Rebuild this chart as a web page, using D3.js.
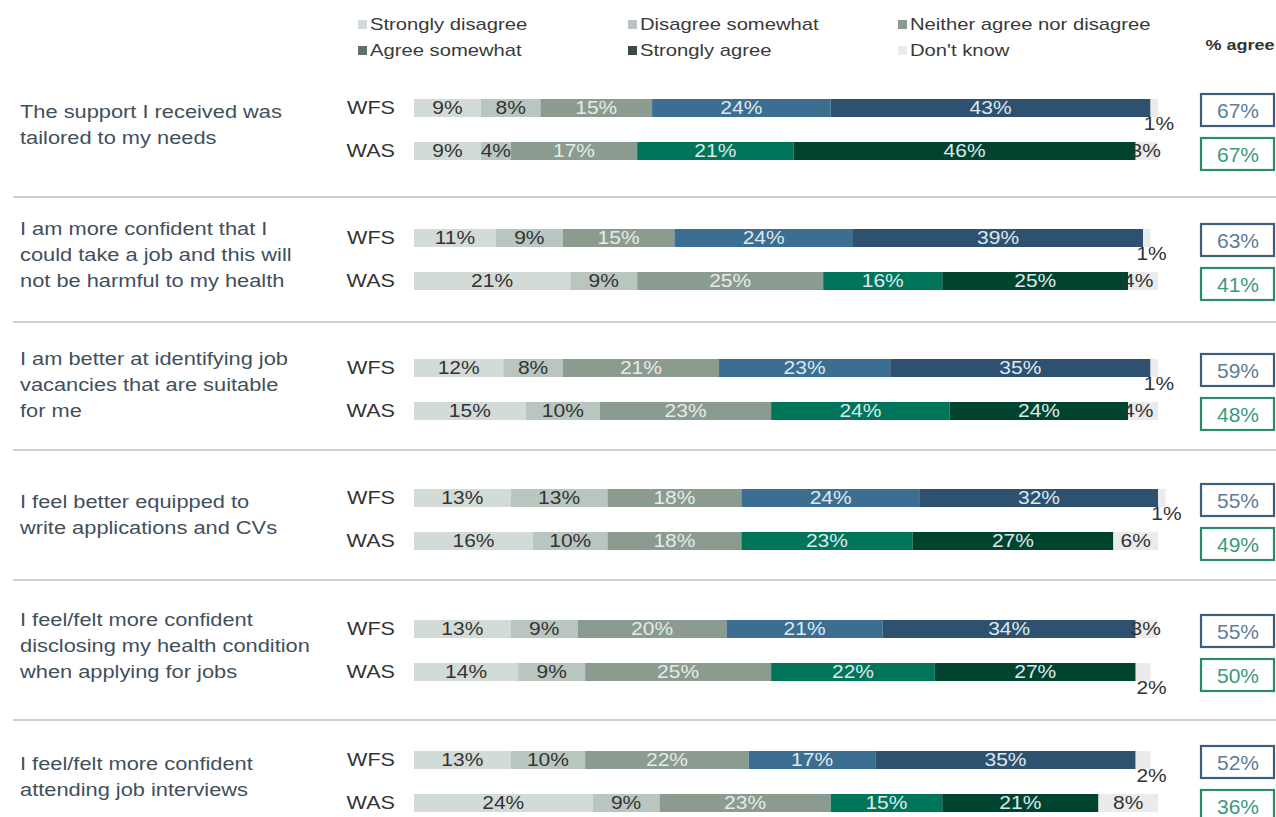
<!DOCTYPE html>
<html>
<head>
<meta charset="utf-8">
<script src="https://cdn.jsdelivr.net/npm/d3@7"></script>
<style>
  html, body { margin: 0; padding: 0; background: #ffffff; }
  svg { display: block; font-family: "Liberation Sans", Arial, sans-serif; }
</style>
</head>
<body>
<svg id="chart" width="1276" height="817"></svg>
<script>
// Response categories, in stacking order
const responses = ["Strongly disagree", "Disagree somewhat", "Neither agree nor disagree",
                   "Agree somewhat", "Strongly agree", "Don't know"];

// Statements (pre-wrapped lines)
const statements = [
  ["The support I received was", "tailored to my needs"],
  ["I am more confident that I", "could take a job and this will", "not be harmful to my health"],
  ["I am better at identifying job", "vacancies that are suitable", "for me"],
  ["I feel better equipped to", "write applications and CVs"],
  ["I feel/felt more confident", "disclosing my health condition", "when applying for jobs"],
  ["I feel/felt more confident", "attending job interviews"]
];

const programmes = ["WFS", "WAS"];

// Percentages per statement, in the order of `responses`
const wfsValues = [
  [9, 8, 15, 24, 43, 1],
  [11, 9, 15, 24, 39, 1],
  [12, 8, 21, 23, 35, 1],
  [13, 13, 18, 24, 32, 1],
  [13, 9, 20, 21, 34, 3],
  [13, 10, 22, 17, 35, 2]
];
const wasValues = [
  [9, 4, 17, 21, 46, 3],
  [21, 9, 25, 16, 25, 4],
  [15, 10, 23, 24, 24, 4],
  [16, 10, 18, 23, 27, 6],
  [14, 9, 25, 22, 27, 2],
  [24, 9, 23, 15, 21, 8]
];

// Share agreeing (agree somewhat + strongly agree)
const wfsAgree = [67, 63, 59, 55, 55, 52];
const wasAgree = [67, 41, 48, 49, 50, 36];

// ---- styling ----
const sharedColors = ["#d3dbd7", "#b9c6c0", "#8b9b90"];
const wfsColors = sharedColors.concat(["#3c6e92", "#2d516e", "#ebebeb"]);
const wasColors = sharedColors.concat(["#00755a", "#00442f", "#ebebeb"]);
const legendColors = ["#d3dbd7", "#b9c6c0", "#8b9b90", "#5f7268", "#3d4a44", "#ebebeb"];
const labelColors = ["#333333", "#333333", "#e6ebe8", "#dfe8ee", "#dfe8ee", "#333333"];

const svg = d3.select("#chart");

// Text is set slightly wide: each label sits in a group stretched horizontally
function wideText(parent, x, y, str, opts) {
  const g = parent.append("g")
    .attr("transform", `translate(${x},${y}) scale(${opts.sx || 1.2},1)`);
  return g.append("text")
    .attr("x", 0).attr("y", 0).attr("dy", "0.35em")
    .attr("text-anchor", opts.anchor || "start")
    .attr("font-size", opts.size)
    .attr("font-weight", opts.weight || "normal")
    .attr("fill", opts.fill)
    .text(str);
}

// Horizontal percentage scale shared by every bar
const x = d3.scaleLinear().domain([0, 100]).range([414, 1158]);

// Vertical positions of the WFS row of each statement
const wfsRowY = [108, 238, 368, 498, 629, 760];
const rowGap = 43;
const barH = 18;
const separatorY = [197, 322, 450, 580, 720];

// ---- legend ----
const legendCols = [358, 628, 898];
const legend = svg.append("g");
responses.forEach((r, i) => {
  const lx = legendCols[i % 3];
  const ly = 24 + Math.floor(i / 3) * 26;
  legend.append("rect")
    .attr("x", lx).attr("y", ly - 4).attr("width", 9).attr("height", 9)
    .attr("fill", legendColors[i]);
  wideText(legend, lx + 12, ly, r, { size: 17, sx: 1.19, fill: "#3a3a3a" });
});

wideText(svg, 1240, 45, "% agree", { size: 15, sx: 1.2, weight: "bold", anchor: "middle", fill: "#333" });

// ---- separators ----
svg.selectAll("line.sep").data(separatorY).join("line")
  .attr("class", "sep")
  .attr("x1", 13).attr("x2", 1276)
  .attr("y1", d => d).attr("y2", d => d)
  .attr("stroke", "#cfcfcf").attr("stroke-width", 2);

// ---- statement labels ----
statements.forEach((lines, gi) => {
  const mid = wfsRowY[gi] + rowGap / 2 - 5;
  const top = mid - (lines.length - 1) * 26 / 2;
  lines.forEach((ln, li) => {
    wideText(svg, 20, top + li * 26, ln, { size: 18.5, sx: 1.18, fill: "#3f505c" });
  });
});

// ---- bars ----
function drawRow(values, colors, y, prog) {
  const g = svg.append("g");
  let cum = 0;
  const segs = values.map((v, i) => {
    const s = { v, i, x0: cum, x1: cum + v };
    cum += v;
    return s;
  });
  g.selectAll("rect").data(segs).join("rect")
    .attr("x", d => x(d.x0))
    .attr("y", y - barH / 2)
    .attr("width", d => x(d.x1) - x(d.x0))
    .attr("height", barH)
    .attr("fill", d => colors[d.i]);

  segs.forEach(d => {
    let cx = (x(d.x0) + x(d.x1)) / 2;
    let cy = y;
    if (d.i === 5) {
      if (d.v <= 2) {          // tiny share: label drops below the bar end
        cx = x(d.x1) + 1;
        cy = y + 16;
      } else if (d.v <= 4) {   // small share: label sits just past the coloured bars
        cx = x(d.x0) + 10;
      }
    }
    wideText(g, cx, cy, d.v + "%", { size: 17.5, sx: 1.2, anchor: "middle", fill: labelColors[d.i] });
  });

  wideText(svg, 395, y, prog, { size: 18, sx: 1.2, anchor: "end", fill: "#333" });
}

function drawBox(value, y, stroke, fill) {
  svg.append("rect")
    .attr("x", 1201).attr("y", y - 16).attr("width", 73).attr("height", 32)
    .attr("fill", "#fff").attr("stroke", stroke).attr("stroke-width", 2.2);
  wideText(svg, 1238, y + 1, value + "%", { size: 20, sx: 1.05, anchor: "middle", fill: fill });
}

statements.forEach((_, gi) => {
  const yW = wfsRowY[gi];
  const yA = yW + rowGap;
  drawRow(wfsValues[gi], wfsColors, yW, programmes[0]);
  drawRow(wasValues[gi], wasColors, yA, programmes[1]);
  drawBox(wfsAgree[gi], yW + 2, "#3d5f7c", "#5d7d98");
  drawBox(wasAgree[gi], yA + 3, "#2a8a6c", "#3a9a7a");
});
</script>
</body>
</html>
